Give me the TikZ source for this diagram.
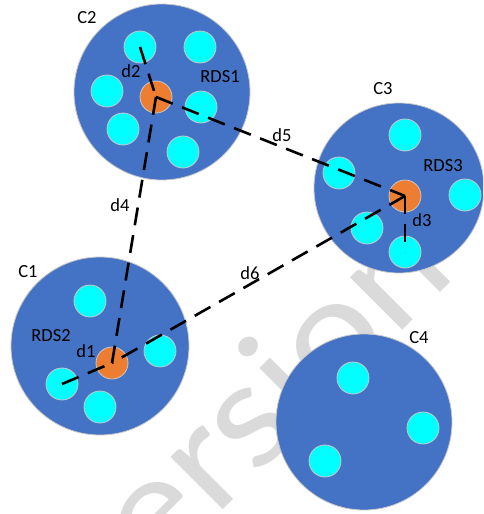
\documentclass[tikz,border=0pt]{standalone}
\usepackage{fontspec}
\setmainfont{Carlito}
\definecolor{clusterblue}{HTML}{4472C4}
\definecolor{nodecyan}{HTML}{00FFFF}
\definecolor{rdsorange}{HTML}{ED7D31}
\definecolor{rim}{HTML}{C8C8C8}
\definecolor{wmark}{RGB}{218,218,218}
\tikzset{
  cluster/.style={circle, fill=clusterblue, draw=rim, line width=0.8pt, inner sep=0pt},
  member/.style={circle, fill=nodecyan, draw=rim, line width=0.8pt, minimum size=32pt, inner sep=0pt},
  rds/.style={circle, fill=rdsorange, draw=rim, line width=0.8pt, minimum size=32pt, inner sep=0pt},
  link/.style={line width=2.6pt, dash pattern=on 18pt off 10pt},
  lbl/.style={font=\fontsize{18.5}{20}\selectfont, inner sep=0pt}
}
\begin{document}
\begin{tikzpicture}[x=1pt, y=-1pt]
\useasboundingbox (0,0) rectangle (483,514);
\clip (0,0) rectangle (483,514);
\fill[white] (0,0) rectangle (483,514);

% background watermark
\node[anchor=base west, rotate=45, inner sep=0pt, text=wmark,
      font=\fontsize{155}{155}\selectfont] (wm) at (101,632) {\scalebox{1.107}[1]{version}};

% clusters
\node[cluster, minimum size=176pt] (c2) at (162,92) {};
\node[cluster, minimum size=170pt] (c3) at (399,188) {};
\node[cluster, minimum size=178pt] (c1) at (100,346) {};
\node[cluster, minimum size=176pt] (c4) at (364,422) {};

% members of C2
\node[member] (c2a) at (140,47) {};
\node[member] (c2b) at (200,47) {};
\node[member] (c2c) at (107,91) {};
\node[member] (c2d) at (201,107) {};
\node[member] (c2e) at (123,129) {};
\node[member] (c2f) at (183,152) {};
\node[rds] (r1) at (156,97) {};

% members of C3
\node[member] (c3a) at (405,135) {};
\node[member] (c3b) at (339,173) {};
\node[member] (c3c) at (465,195) {};
\node[member] (c3d) at (367,228) {};
\node[member] (c3e) at (405,252) {};
\node[rds] (r3) at (405,196) {};

% members of C1
\node[member] (c1a) at (90,301) {};
\node[member] (c1b) at (160,351) {};
\node[member] (c1c) at (62,384) {};
\node[member] (c1d) at (100,407) {};
\node[rds] (r2) at (112,363) {};

% members of C4
\node[member] (c4a) at (353,378) {};
\node[member] (c4b) at (423,428) {};
\node[member] (c4c) at (325,461) {};

% distances
\draw[link] (c2a.center) -- (r1.center);
\draw[link] (r1.center) -- (r2.center);
\draw[link] (r1.center) -- (r3.center);
\draw[link] (r3.center) -- (c3e.center);
\draw[link] (r3.center) -- (r2.center);
\draw[link] (c1c.center) -- (r2.center);

% labels
\node[lbl] (lc2) at (87,18) {C2};
\node[lbl] (lc3) at (383,89) {C3};
\node[lbl] (lc1) at (28,272) {C1};
\node[lbl] (lc4) at (419,338) {C4};
\node[lbl] (lr1) at (220,77) {RDS1};
\node[lbl] (lr3) at (443,166) {RDS3};
\node[lbl] (lr2) at (51,336) {RDS2};
\node[lbl] (ld1) at (86,351) {d1};
\node[lbl] (ld2) at (131,71) {d2};
\node[lbl] (ld3) at (422,220) {d3};
\node[lbl] (ld4) at (120,205) {d4};
\node[lbl] (ld5) at (282,135) {d5};
\node[lbl] (ld6) at (250,273) {d6};
\end{tikzpicture}
\end{document}
